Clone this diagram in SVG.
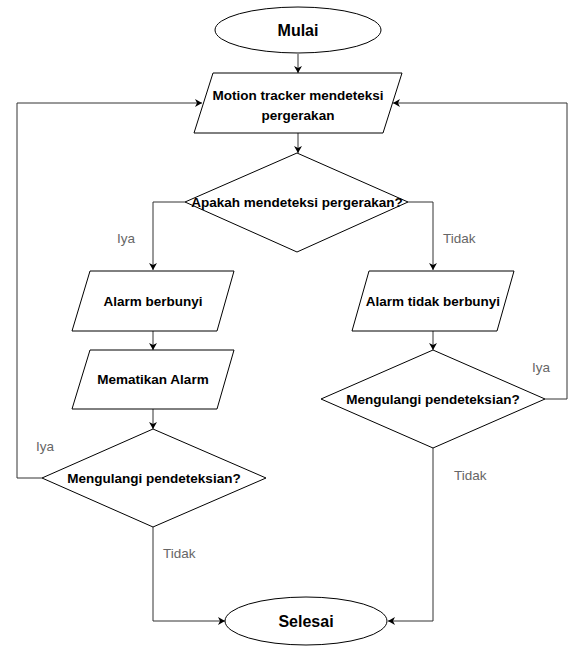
<svg xmlns="http://www.w3.org/2000/svg" width="575" height="646" viewBox="0 0 575 646">
<defs>
<marker id="arr" markerWidth="8" markerHeight="8" refX="7" refY="4" orient="auto" markerUnits="userSpaceOnUse">
<path d="M0,0 L7,4 L0,8 L2,4 Z" fill="#000"/>
</marker>
<style>
.shape{fill:#fff;stroke:#000;stroke-width:1}
.t{font-family:"Liberation Sans",Arial,sans-serif;font-weight:bold;font-size:13.5px;fill:#000;text-anchor:middle}
.big{font-size:16px}
.lbl{font-family:"Liberation Sans",Arial,sans-serif;font-size:13.5px;fill:#666}
.c{fill:none;stroke:#333;stroke-width:1}
</style>
</defs>
<rect width="575" height="646" fill="#fff"/>
<g id="connectors">
<path class="c" d="M298,54 V73" marker-end="url(#arr)"/>
<path class="c" d="M298,133 V153" marker-end="url(#arr)"/>
<path class="c" d="M185,202 H153 V270" marker-end="url(#arr)"/>
<path class="c" d="M408,202 H433 V270" marker-end="url(#arr)"/>
<path class="c" d="M153,331 V350" marker-end="url(#arr)"/>
<path class="c" d="M153,409 V429" marker-end="url(#arr)"/>
<path class="c" d="M433,331 V350" marker-end="url(#arr)"/>
<path class="c" d="M42,478 H17 V103 H202" marker-end="url(#arr)"/>
<path class="c" d="M545,399 H567 V103 H393" marker-end="url(#arr)"/>
<path class="c" d="M153,527 V621 H225" marker-end="url(#arr)"/>
<path class="c" d="M433,448 V621 H388" marker-end="url(#arr)"/>
<text class="lbl" x="117" y="243">Iya</text>
<text class="lbl" x="443" y="243">Tidak</text>
<text class="lbl" x="36" y="451">Iya</text>
<text class="lbl" x="532" y="372">Iya</text>
<text class="lbl" x="454" y="480">Tidak</text>
<text class="lbl" x="163" y="558">Tidak</text>
</g>
<g id="mulai">
<ellipse class="shape" cx="298" cy="30" rx="83" ry="23"/>
<text class="t big" x="298" y="36">Mulai</text>
</g>
<g id="motion">
<polygon class="shape" points="213,73 402,73 383,133 194,133"/>
<text class="t" x="298" y="100">Motion tracker mendeteksi</text>
<text class="t" x="298" y="120">pergerakan</text>
</g>
<g id="apakah">
<polygon class="shape" points="297,153 408,202 297,252 185,202"/>
<text class="t" x="297" y="207">Apakah mendeteksi pergerakan?</text>
</g>
<g id="alarm">
<polygon class="shape" points="90,271 234,271 217,331 72,331"/>
<text class="t" x="153" y="306">Alarm berbunyi</text>
</g>
<g id="alarm-tidak">
<polygon class="shape" points="369,271 514,271 497,331 352,331"/>
<text class="t" x="433" y="306">Alarm tidak berbunyi</text>
</g>
<g id="mematikan">
<polygon class="shape" points="90,350 234,350 217,409 72,409"/>
<text class="t" x="153" y="384">Mematikan Alarm</text>
</g>
<g id="ulang-kiri">
<polygon class="shape" points="153,429 266,478 153,527 42,478"/>
<text class="t" x="154" y="483">Mengulangi pendeteksian?</text>
</g>
<g id="ulang-kanan">
<polygon class="shape" points="433,350 545,399 433,448 321,399"/>
<text class="t" x="433" y="404">Mengulangi pendeteksian?</text>
</g>
<g id="selesai">
<ellipse class="shape" cx="306" cy="621" rx="81" ry="24"/>
<text class="t big" x="306" y="627">Selesai</text>
</g>
</svg>
